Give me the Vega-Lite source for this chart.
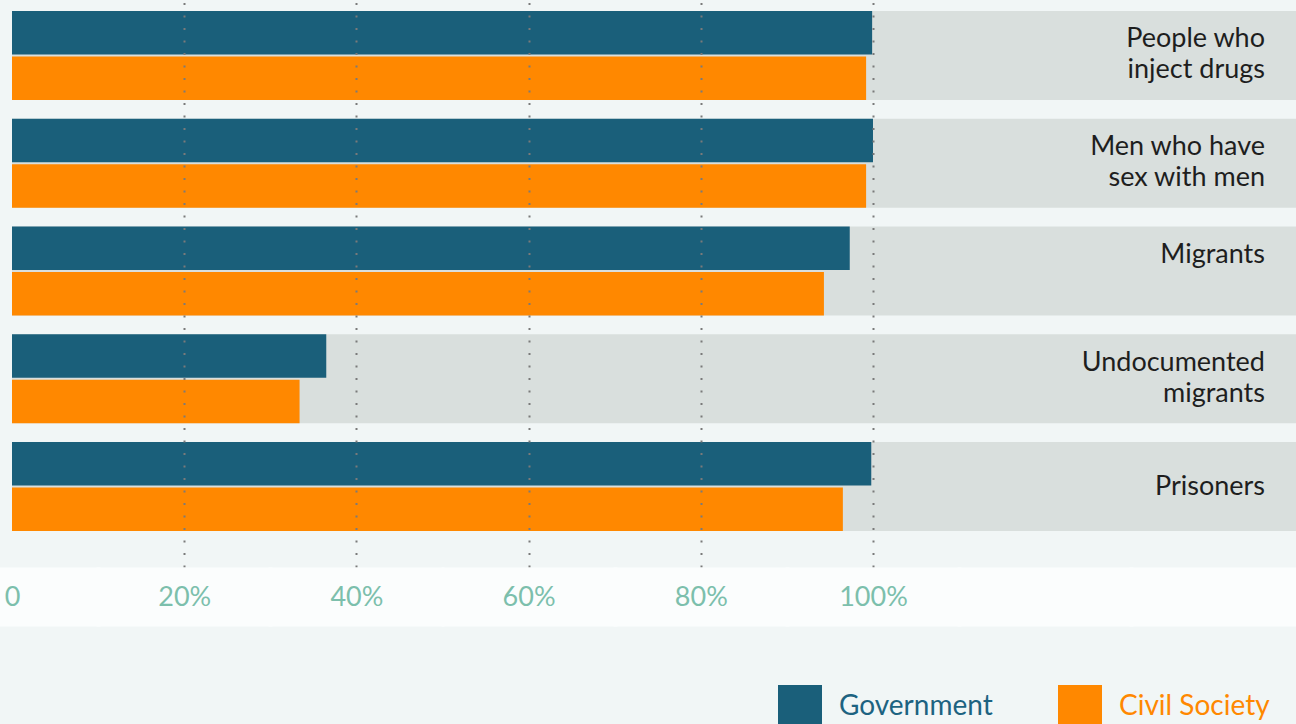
{
  "$schema": "https://vega.github.io/schema/vega-lite/v6.json",
  "width": 1296,
  "height": 567,
  "autosize": {"type": "none"},
  "padding": {"left": 0, "top": 0, "right": 0, "bottom": 157},
  "background": "#f1f6f6",
  "config": {
    "view": {"stroke": null},
    "font": "Lato"
  },
  "datasets": {
    "groups": [
      {"group": "People who inject drugs", "lines": ["People who", "inject drugs"]},
      {"group": "Men who have sex with men", "lines": ["Men who have", "sex with men"]},
      {"group": "Migrants", "lines": ["Migrants", ""]},
      {"group": "Undocumented migrants", "lines": ["Undocumented", "migrants"]},
      {"group": "Prisoners", "lines": ["Prisoners"]}
    ],
    "bars": [
      {"group": "People who inject drugs", "series": "Government", "value": 99.9},
      {"group": "People who inject drugs", "series": "Civil Society", "value": 99.2},
      {"group": "Men who have sex with men", "series": "Government", "value": 100},
      {"group": "Men who have sex with men", "series": "Civil Society", "value": 99.2},
      {"group": "Migrants", "series": "Government", "value": 97.3},
      {"group": "Migrants", "series": "Civil Society", "value": 94.3},
      {"group": "Undocumented migrants", "series": "Government", "value": 36.5},
      {"group": "Undocumented migrants", "series": "Civil Society", "value": 33.4},
      {"group": "Prisoners", "series": "Government", "value": 99.8},
      {"group": "Prisoners", "series": "Civil Society", "value": 96.5}
    ]
  },
  "encoding": {
    "y": {
      "field": "group",
      "type": "nominal",
      "sort": ["People who inject drugs", "Men who have sex with men", "Migrants", "Undocumented migrants", "Prisoners"],
      "scale": {"paddingInner": 0.174, "paddingOuter": 0.218, "align": 0.234},
      "axis": null
    }
  },
  "layer": [
    {
      "data": {"name": "groups"},
      "mark": {"type": "bar", "color": "#d9dfdd", "cornerRadius": 0},
      "encoding": {
        "x": {
          "datum": 0,
          "type": "quantitative",
          "scale": {"domain": [-1.394, 149.13], "nice": false, "zero": false, "clamp": true},
          "axis": {
            "values": [0, 20, 40, 60, 80, 100, 120, 140],
            "labelExpr": "datum.value == 0 ? '0' : (datum.value <= 100 ? datum.value + '%' : '')",
            "title": null,
            "domain": false,
            "ticks": true,
            "tickSize": 59,
            "tickWidth": 176,
            "tickColor": "#fbfdfd",
            "tickCap": "butt",
            "labelPadding": -28.5,
            "labelBaseline": "middle",
            "labelFont": "Lato",
            "labelFontSize": 27,
            "labelColor": "#7cbfac",
            "labelFlush": false,
            "labelOverlap": false,
            "grid": true,
            "gridColor": {"condition": {"test": "datum.value === 0 || datum.value > 100", "value": "transparent"}, "value": "#7a7a7a"},
            "gridWidth": 2,
            "gridDash": [2, 10.5],
            "zindex": 1
          }
        },
        "x2": {"datum": 149.13}
      }
    },
    {
      "data": {"name": "bars"},
      "mark": {"type": "bar"},
      "encoding": {
        "x": {"field": "value", "type": "quantitative"},
        "x2": {"datum": 0},
        "yOffset": {
          "field": "series",
          "type": "nominal",
          "sort": ["Government", "Civil Society"],
          "scale": {"paddingInner": 0.045, "paddingOuter": 0}
        },
        "color": {
          "field": "series",
          "type": "nominal",
          "sort": ["Government", "Civil Society"],
          "scale": {"domain": ["Government", "Civil Society"], "range": ["#1a5f7a", "#ff8800"]},
          "legend": {
            "title": null,
            "orient": "none",
            "direction": "horizontal",
            "legendX": 778,
            "legendY": 685,
            "symbolType": "square",
            "symbolSize": 1936,
            "symbolStrokeWidth": 0,
            "symbolOpacity": 1,
            "labelFont": "Lato",
            "labelFontSize": 28,
            "labelOffset": 17,
            "columnPadding": 65,
            "padding": 0,
            "labelLimit": 400,
            "encoding": {
              "labels": {
                "fill": {"condition": {"test": "datum.value === 'Government'", "value": "#1d6381"}, "value": "#ff8800"}
              }
            }
          }
        }
      }
    },
    {
      "data": {"name": "groups"},
      "mark": {
        "type": "text",
        "align": "right",
        "baseline": "middle",
        "dx": -31,
        "dy": {"expr": "length(datum.lines) > 1 ? -16 : 0"},
        "font": "Lato",
        "fontSize": 27,
        "lineHeight": 31,
        "color": "#1e1e1e"
      },
      "encoding": {
        "x": {"datum": 149.13, "type": "quantitative"},
        "text": {"field": "lines"}
      }
    }
  ]
}
